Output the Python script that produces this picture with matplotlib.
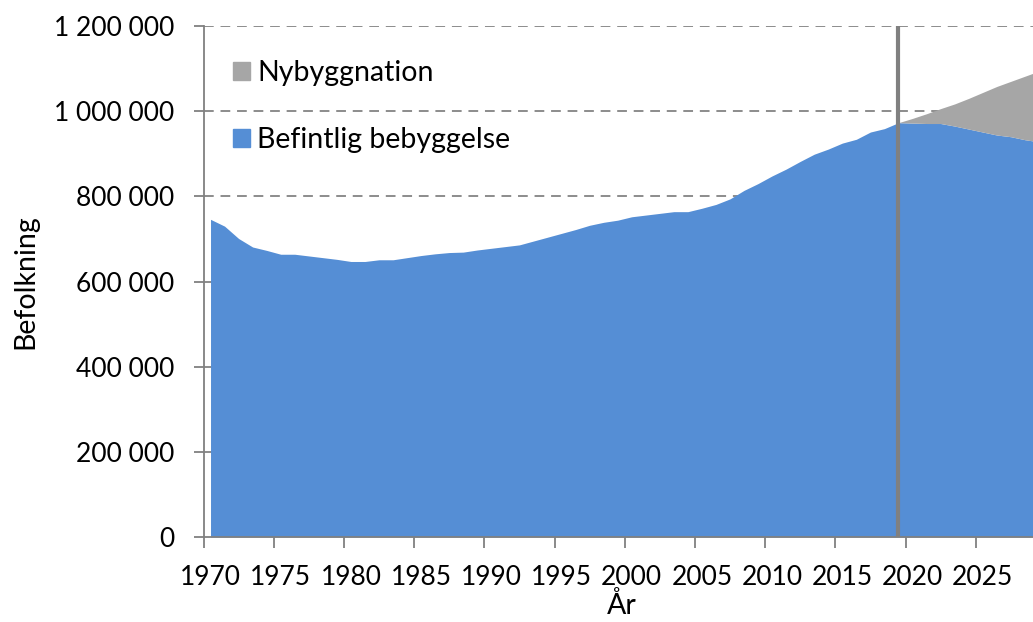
import matplotlib
matplotlib.use("Agg")
import numpy as np
from matplotlib import pyplot as plt
from matplotlib.patches import Patch

# data (population)
years = list(range(1970, 2030))
befintlig = [746000, 730000, 701000, 681000, 673000, 664000, 664000, 660000, 656000, 652000,
             647000, 647000, 651000, 651000, 656000, 661000, 665000, 668000, 669000, 674000,
             678000, 682000, 686000, 695000, 704000, 713000, 722000, 732000, 739000, 744000,
             752000, 756000, 760000, 764000, 764000, 772000, 781000, 794000, 814000, 830000,
             848000, 864000, 882000, 899000, 911000, 925000, 934000, 951000, 959000, 973000,
             972000, 971000, 971000, 965000, 958000, 951000, 944000, 940000, 933000, 928000]
nyb_years = list(range(2019, 2030))
nybyggnation = [0, 11000, 23000, 35000, 52000, 72000, 93000, 114000, 130000, 149000, 166000]
cut_year = 2019

y_ticks = [0, 200000, 400000, 600000, 800000, 1000000, 1200000]
x_labels = list(range(1970, 2030, 5))

blue = "#558ed5"
grey = "#a6a6a6"
line_grey = "#808080"

plt.rcParams['font.family'] = ['Lato', 'DejaVu Sans']
fs = 19
fs_big = 20.5

fig = plt.figure(figsize=(10.33, 6.22), dpi=100)
ax = fig.add_axes([203.5/1033, 85/622, 829.5/1033, 511/622])

base = np.array(befintlig, dtype=float)
ax.fill_between(years, 0, base, color=blue, linewidth=0, zorder=2)
nb_base = base[years.index(nyb_years[0]):]
ax.fill_between(nyb_years, nb_base, nb_base + np.array(nybyggnation), color=grey,
                linewidth=0, zorder=2)
ax.axvline(cut_year, color=line_grey, linewidth=3, zorder=3)

# gridlines
for t in y_ticks[1:]:
    ax.axhline(t, color="#8c8c8c", linewidth=1.4, linestyle=(0, (5, 3.5)), zorder=1)

ax.set_yticks(y_ticks)
ax.set_yticklabels([f"{v:,}".replace(",", " ") for v in y_ticks], fontsize=fs)
ax.tick_params(axis="y", length=7, width=1.3, color=line_grey, pad=14)

# ticks between categories, labels centred on categories
ax.set_xticks([x - 0.5 for x in x_labels])
ax.set_xticklabels([])
ax.set_xticks(x_labels, minor=True)
ax.set_xticklabels([str(x) for x in x_labels], minor=True, fontsize=fs)
ax.tick_params(axis="x", which="major", length=8, width=1.3, color=line_grey)
ax.tick_params(axis="x", which="minor", length=0, pad=20)

ax.set_xlim(1969.5, 1969.5 + 829.5/14.04)
ax.set_ylim(0, 1200000)

for s in ["top", "right"]:
    ax.spines[s].set_visible(False)
for s in ["left", "bottom"]:
    ax.spines[s].set_color(line_grey)
    ax.spines[s].set_linewidth(1.3)
    ax.spines[s].set_zorder(4)

handles = [Patch(color=grey), Patch(color=blue)]
ax.legend(handles, ["Nybyggnation", "Befintlig bebyggelse"], loc="upper left",
          bbox_to_anchor=(0.022, 0.955), frameon=False, fontsize=fs_big,
          handlelength=0.6, handleheight=0.6, handletextpad=0.25, labelspacing=1.43,
          borderaxespad=0)

fig.text(25/1033, 1 - 282/622, "Befolkning", rotation=90, ha="center", va="center", fontsize=fs_big)
fig.text(622/1033, 1 - 606/622, "År", ha="center", va="center", fontsize=fs_big)

fig.savefig("out.png", dpi=100)
